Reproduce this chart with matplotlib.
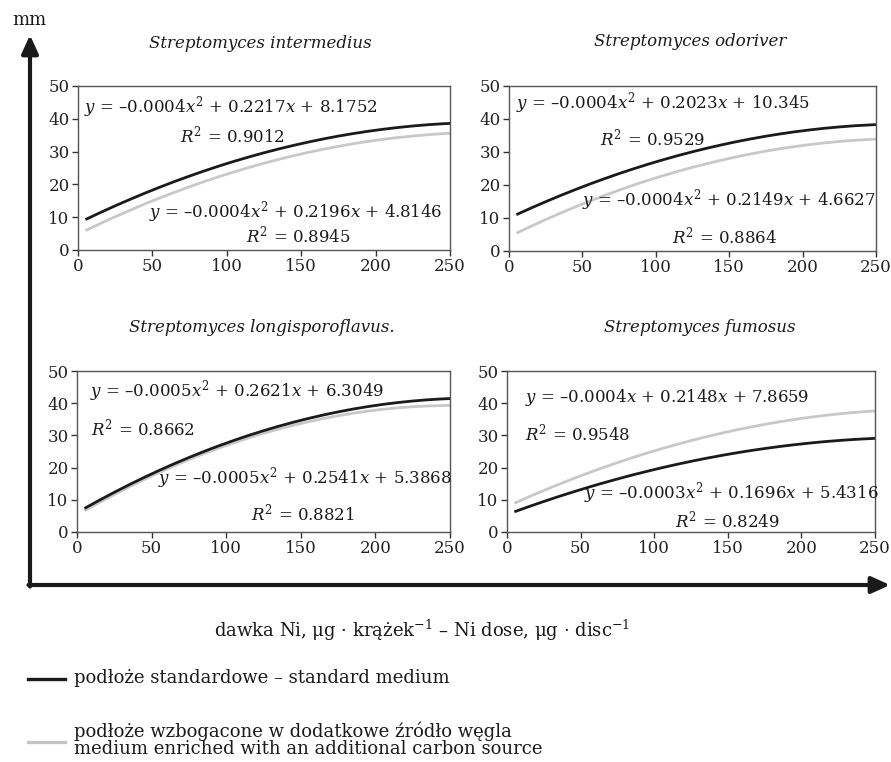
import matplotlib
matplotlib.use("Agg")
import matplotlib.pyplot as plt

plt.rcParams['font.family'] = ['DejaVu Serif']
plt.rcParams['mathtext.fontset'] = 'dejavuserif'

# ---------------- data ----------------
dose = [5, 15, 25, 35, 45, 55, 65, 75, 85, 95, 105, 115, 125,
        135, 145, 155, 165, 175, 185, 195, 205, 215, 225, 235, 245, 250]

titles = ["Streptomyces intermedius", "Streptomyces odoriver",
          "Streptomyces longisporoflavus.", "Streptomyces fumosus"]

# standard medium (black curves), mm
std_intermedius = [9.28, 11.41, 13.47, 15.44, 17.34, 19.16, 20.90, 22.55, 24.13, 25.63, 27.05, 28.38, 29.64,
                   30.82, 31.91, 32.93, 33.87, 34.73, 35.50, 36.20, 36.81, 37.35, 37.81, 38.19, 38.49, 38.60]
std_odoriver = [11.00, 13.01, 14.94, 16.80, 18.57, 20.28, 21.90, 23.46, 24.93, 26.33, 27.65, 28.90, 30.07,
                31.17, 32.18, 33.13, 33.99, 34.79, 35.50, 36.14, 36.70, 37.19, 37.60, 37.94, 38.19, 38.30]
std_longis = [7.32, 9.87, 12.33, 14.69, 16.95, 19.11, 21.17, 23.13, 24.99, 26.76, 28.42, 29.99, 31.45,
              32.82, 34.09, 35.26, 36.33, 37.30, 38.18, 38.95, 39.63, 40.20, 40.68, 41.06, 41.34, 41.44]
std_fumosus = [6.27, 7.91, 9.48, 11.00, 12.45, 13.85, 15.19, 16.46, 17.68, 18.83, 19.93, 20.97, 21.94,
               22.86, 23.71, 24.51, 25.25, 25.92, 26.54, 27.09, 27.59, 28.03, 28.40, 28.72, 28.97, 29.08]

# enriched medium (grey curves), mm
enr_intermedius = [5.92, 8.07, 10.14, 12.13, 14.05, 15.87, 17.63, 19.29, 20.89, 22.40, 23.83, 25.18, 26.45,
                   27.64, 28.76, 29.78, 30.74, 31.60, 32.40, 33.11, 33.74, 34.29, 34.76, 35.15, 35.47, 35.59]
enr_odoriver = [5.40, 7.50, 9.53, 11.47, 13.33, 15.12, 16.82, 18.44, 19.99, 21.45, 22.83, 24.14, 25.36,
                26.50, 27.56, 28.55, 29.45, 30.27, 31.02, 31.68, 32.26, 32.77, 33.19, 33.53, 33.79, 33.90]
enr_longis = [6.58, 9.17, 11.66, 14.03, 16.31, 18.47, 20.53, 22.48, 24.32, 26.06, 27.69, 29.21, 30.63,
              31.94, 33.14, 34.24, 35.22, 36.11, 36.88, 37.55, 38.11, 38.56, 38.91, 39.14, 39.28, 39.30]
enr_fumosus = [8.94, 10.95, 12.90, 14.77, 16.57, 18.30, 19.95, 21.54, 23.05, 24.49, 25.86, 27.15, 28.38,
               29.53, 30.61, 31.62, 32.55, 33.42, 34.21, 34.93, 35.58, 36.15, 36.66, 37.09, 37.45, 37.60]

standard = [std_intermedius, std_odoriver, std_longis, std_fumosus]
enriched = [enr_intermedius, enr_odoriver, enr_longis, enr_fumosus]

eq_standard = [
    r"$y$ = –0.0004$x^2$ + 0.2217$x$ + 8.1752",
    r"$y$ = –0.0004$x^2$ + 0.2023$x$ + 10.345",
    r"$y$ = –0.0005$x^2$ + 0.2621$x$ + 6.3049",
    r"$y$ = –0.0003$x^2$ + 0.1696$x$ + 5.4316",
]
r2_standard = ["0.9012", "0.9529", "0.8662", "0.8249"]
eq_enriched = [
    r"$y$ = –0.0004$x^2$ + 0.2196$x$ + 4.8146",
    r"$y$ = –0.0004$x^2$ + 0.2149$x$ + 4.6627",
    r"$y$ = –0.0005$x^2$ + 0.2541$x$ + 5.3868",
    r"$y$ = –0.0004$x$ + 0.2148$x$ + 7.8659",
]
r2_enriched = ["0.8945", "0.8864", "0.8821", "0.9548"]

xticks = [0, 50, 100, 150, 200, 250]
yticks = [0, 10, 20, 30, 40, 50]

legend_labels = ["podłoże standardowe – standard medium",
                 "podłoże wzbogacone w dodatkowe źródło węgla\nmedium enriched with an additional carbon source"]

# ---------------- layout ----------------
W, H = 891, 762
fig = plt.figure(figsize=(W / 100, H / 100), dpi=100)

def px_axes(l, t, r, b):
    return fig.add_axes([l / W, 1 - b / H, (r - l) / W, (b - t) / H])

ov = fig.add_axes([0, 0, 1, 1], zorder=0)
ov.set_xlim(0, W)
ov.set_ylim(H, 0)
ov.axis('off')

boxes = [(78, 86, 450, 250), (509, 86, 876, 251), (77, 371, 450, 532), (507, 371, 875, 532)]
title_pos = [(260, 43), (690, 42), (262, 327), (700, 327)]

ann = [
    dict(es=(4, 43.6, 'left'), rs=(104, 34.8, 'center'), ee=(48, 11.6, 'left'), re=(148, 4.3, 'center')),
    dict(es=(5, 44.8, 'left'), rs=(98, 34.2, 'center'), ee=(50, 15.5, 'left'), re=(147, 4.3, 'center')),
    dict(es=(9, 43.8, 'left'), rs=(9.5, 32.3, 'left'), ee=(54, 16.8, 'left'), re=(151, 5.9, 'center')),
    dict(es=(52, 12.1, 'left'), rs=(150, 3.7, 'center'), ee=(12, 41.9, 'left'), re=(12.5, 30.7, 'left')),
]

ink = '#1a1a1a'
fs = 12
for i, box in enumerate(boxes):
    ax = px_axes(*box)
    ax.set_zorder(2)
    ax.plot(dose, enriched[i], color='#c8c8c8', lw=2.0, solid_capstyle='butt')
    ax.plot(dose, standard[i], color=ink, lw=2.0, solid_capstyle='butt')
    ax.set_xlim(0, 250)
    ax.set_ylim(0, 50)
    ax.set_xticks(xticks)
    ax.set_yticks(yticks)
    ax.tick_params(direction='out', length=4, width=1, color='#333333',
                   labelsize=fs, pad=2, labelcolor='#222222')
    for s in ax.spines.values():
        s.set_color('#555555')
        s.set_linewidth(1.0)
    a = ann[i]
    x, y, ha = a['es']
    ax.text(x, y, eq_standard[i], fontsize=fs, ha=ha, va='center', color=ink)
    x, y, ha = a['rs']
    ax.text(x, y, r"$R^2$ = " + r2_standard[i], fontsize=fs, ha=ha, va='center', color=ink)
    x, y, ha = a['ee']
    ax.text(x, y, eq_enriched[i], fontsize=fs, ha=ha, va='center', color=ink)
    x, y, ha = a['re']
    ax.text(x, y, r"$R^2$ = " + r2_enriched[i], fontsize=fs, ha=ha, va='center', color=ink)
    tx, ty = title_pos[i]
    ov.text(tx, ty, titles[i], fontsize=fs, style='italic', ha='center', va='center', color=ink)

# big axes arrows
aprops = dict(arrowstyle='-|>,head_length=0.55,head_width=0.25', lw=3.0, color=ink,
              shrinkA=0, shrinkB=0, mutation_scale=20)
ov.annotate('', xy=(30, 35), xytext=(30, 586.5), arrowprops=aprops)
ov.annotate('', xy=(890, 585), xytext=(28.5, 585), arrowprops=aprops)
ov.text(29, 20, "mm", fontsize=13, ha='center', va='center', color=ink)

ov.text(422, 630, r"dawka Ni, μg · krążek$^{-1}$ – Ni dose, μg · disc$^{-1}$",
        fontsize=13, ha='center', va='center', color=ink)

# legend
ov.plot([28, 65], [679, 679], color=ink, lw=2.4)
ov.text(74, 678, legend_labels[0], fontsize=13, ha='left', va='center', color=ink)
ov.plot([28, 65], [742, 742], color='#c4c4c4', lw=2.4)
ov.text(74, 740, legend_labels[1], fontsize=13, ha='left', va='center', color=ink,
        linespacing=0.92)

fig.savefig("out.png", dpi=100)
